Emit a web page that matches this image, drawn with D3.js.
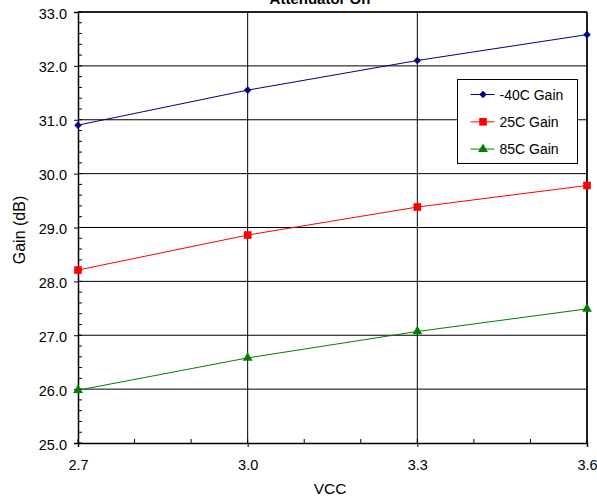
<!DOCTYPE html>
<html><head><meta charset="utf-8">
<script src="https://cdn.jsdelivr.net/npm/d3@7"></script>
<style>body{margin:0;background:#fff}svg{display:block;font-family:"Liberation Sans",Arial,sans-serif}</style>
</head><body>
<svg id="c" width="597" height="502"></svg>
<script>
const vcc = [2.7, 3.0, 3.3, 3.6];
const gainM40 = [30.90, 31.55, 32.10, 32.58];
const gain25 = [28.21, 28.86, 29.38, 29.78];
const gain85 = [25.98, 26.58, 27.07, 27.49];
const seriesNames = ["-40C Gain", "25C Gain", "85C Gain"];
const xTicks = [2.7, 3.0, 3.3, 3.6];
const yTicks = [25, 26, 27, 28, 29, 30, 31, 32, 33];

const diamond = d3.symbolDiamond2 || d3.symbolDiamond;
const series = [
  {name: seriesNames[0], vals: gainM40, color: "#000080", shape: diamond, size: 36},
  {name: seriesNames[1], vals: gain25, color: "#FF0000", shape: d3.symbolSquare, size: 58},
  {name: seriesNames[2], vals: gain85, color: "#008000", shape: d3.symbolTriangle, size: 42}
];

const svg = d3.select("#c");
const L = 78, R = 587, T = 12, B = 443;
const x = d3.scaleLinear().domain([2.7, 3.6]).range([L, R]);
const y = d3.scaleLinear().domain([25, 33]).range([B, T]);

// gridlines
svg.append("g").selectAll("line").data(yTicks.slice(1)).join("line")
  .attr("x1", L).attr("x2", R).attr("y1", d => y(d)).attr("y2", d => y(d))
  .attr("stroke", "#000").attr("stroke-width", 1);
svg.append("g").selectAll("line").data(xTicks.slice(1)).join("line")
  .attr("x1", d => x(d)).attr("x2", d => x(d)).attr("y1", T).attr("y2", B)
  .attr("stroke", "#000").attr("stroke-width", 1);

// minor ticks
const yMinor = d3.range(25, 33.001, 0.2);
svg.append("g").selectAll("line").data(yMinor).join("line")
  .attr("x1", L).attr("x2", L + 4).attr("y1", d => y(d)).attr("y2", d => y(d))
  .attr("stroke", "#000");
const xMinor = d3.range(2.7, 3.6001, 0.1);
svg.append("g").selectAll("line").data(xMinor).join("line")
  .attr("x1", d => x(d)).attr("x2", d => x(d)).attr("y1", B).attr("y2", B - 4)
  .attr("stroke", "#000");

// axes
const yAxis = svg.append("g").attr("transform", `translate(${L},0)`)
  .call(d3.axisLeft(y).tickValues(yTicks).tickFormat(d3.format(".1f")).tickSize(4).tickPadding(7));
const xAxis = svg.append("g").attr("transform", `translate(0,${B})`)
  .call(d3.axisBottom(x).tickValues(xTicks).tickFormat(d3.format(".1f")).tickSize(4).tickPadding(13));
[yAxis, xAxis].forEach(a => {
  a.attr("font-size", 14.5).attr("font-family", "Liberation Sans, Arial, sans-serif");
  a.select(".domain").attr("stroke", "#000").attr("stroke-width", 1.5);
  a.selectAll("text").attr("fill", "#000");
  a.selectAll(".tick line").attr("stroke", "#000");
});
yAxis.selectAll("text").attr("dy", "0.42em");
// top and right borders
svg.append("line").attr("x1", L).attr("x2", R).attr("y1", T).attr("y2", T).attr("stroke", "#000").attr("stroke-width", 1.5);
svg.append("line").attr("x1", R).attr("x2", R).attr("y1", T).attr("y2", B).attr("stroke", "#000").attr("stroke-width", 1.5);

// series
const line = d3.line().x((d, i) => x(vcc[i])).y(d => y(d));
series.forEach(s => {
  svg.append("path").datum(s.vals).attr("d", line).attr("fill", "none").attr("stroke", s.color).attr("stroke-width", 1);
  svg.append("g").selectAll("path").data(s.vals).join("path")
    .attr("d", d3.symbol().type(s.shape).size(s.size))
    .attr("transform", (d, i) => `translate(${x(vcc[i])},${y(d)})`)
    .attr("fill", s.color);
});

// legend
const lg = svg.append("g").attr("transform", "translate(457.5,79.5)");
lg.append("rect").attr("width", 120).attr("height", 84).attr("fill", "#fff").attr("stroke", "#000").attr("stroke-width", 1);
series.forEach((s, i) => {
  const yy = 15 + i * 27.3;
  lg.append("line").attr("x1", 13).attr("x2", 37).attr("y1", yy).attr("y2", yy).attr("stroke", s.color);
  lg.append("path").attr("d", d3.symbol().type(s.shape).size(s.size)).attr("transform", `translate(25.5,${yy})`).attr("fill", s.color);
  lg.append("text").attr("x", 42).attr("y", yy + 5).attr("font-size", 14).text(s.name);
});

// title and axis labels
svg.append("text").attr("x", 320).attr("y", 4).attr("text-anchor", "middle").attr("font-size", 15).attr("font-weight", "bold").text("Attenuator On");
svg.append("text").attr("x", 330).attr("y", 494).attr("text-anchor", "middle").attr("font-size", 15.5).text("VCC");
svg.append("text").attr("transform", "translate(25,230) rotate(-90)").attr("text-anchor", "middle").attr("font-size", 16).text("Gain (dB)");
</script>
</body></html>
